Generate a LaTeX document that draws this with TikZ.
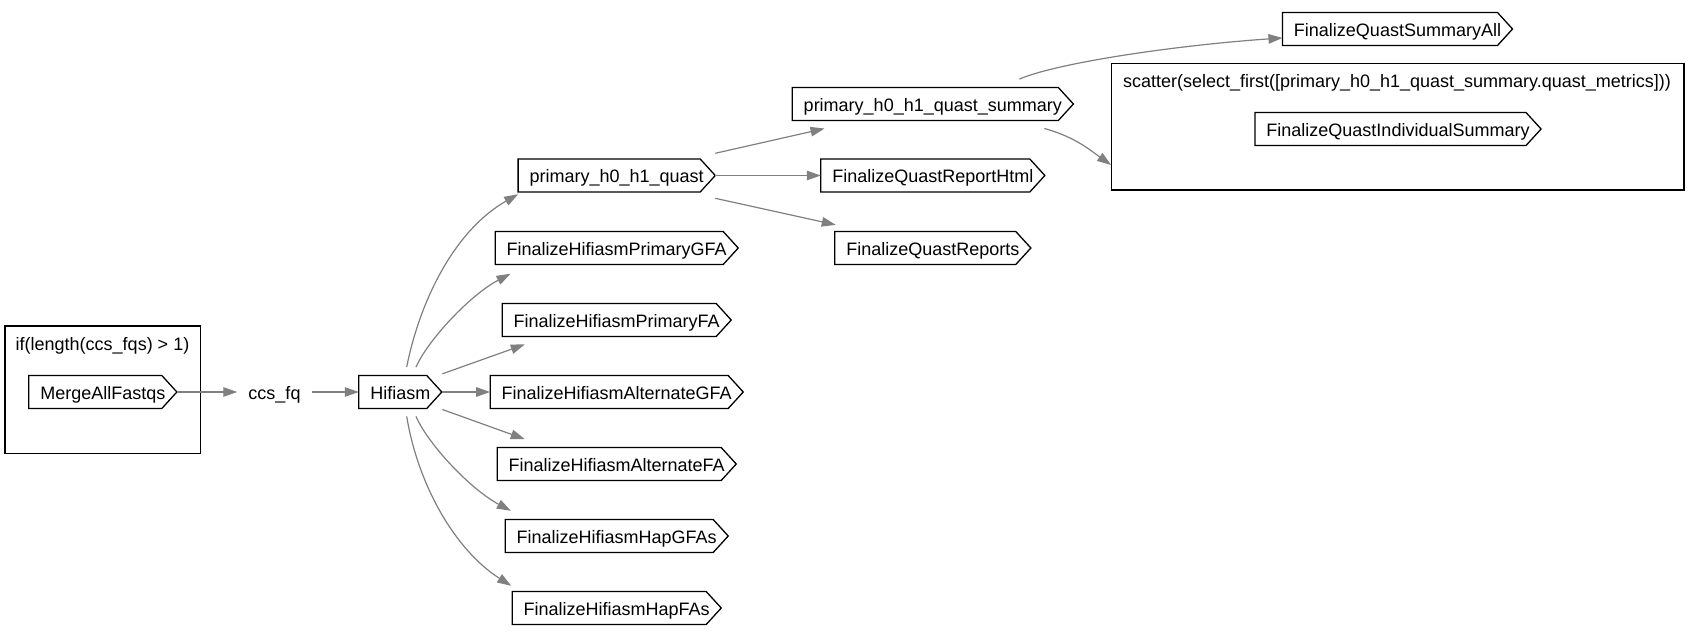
\documentclass[tikz,border=0pt]{standalone}
\usepackage{fontspec}
\setmainfont{Liberation Sans}
\usetikzlibrary{arrows.meta}

% chevron outline (flat left side, pointed right side) around a task node
\newcommand\taskoutline[1]{%
  \draw[outline] (#1.north west) -- ([shift={(-15,0)}]#1.north east) -- (#1.east)
    -- ([shift={(-15,0)}]#1.south east) -- (#1.south west) -- cycle;}

\begin{document}
\begin{tikzpicture}[x=1pt,y=-1pt,
  every node/.style={font=\fontsize{18}{21.6}\selectfont},
  task/.style={inner xsep=11.3pt, inner ysep=0pt, minimum height=32.5pt,
               text height=14.6pt, text depth=0pt},
  plain/.style={inner xsep=11pt, inner ysep=0pt, minimum height=32.5pt,
               text height=14.6pt, text depth=0pt},
  outline/.style={draw=black, line width=1.3pt, line join=miter},
  cluster/.style={draw=black, line width=1.3pt, inner sep=0pt},
  clabel/.style={anchor=base, inner sep=0pt},
  flow/.style={draw=black!50, line width=1.2pt,
               -{Triangle[length=14pt,width=9.5pt]}},
]
\path[fill=white, use as bounding box] (0,0) rectangle (1690,637);

% conditional block
\node[cluster, minimum width=195.7pt, minimum height=127.3pt] (ifbox) at (102.85,389.65) {};
\node[clabel] (iflabel) at (102.5,350.7) {if(length(ccs\_fqs) > 1)};
\node[task] (merge) at (102.85,392) {MergeAllFastqs};

\node[plain] (ccs) at (274.5,392) {ccs\_fq};
\node[task] (hifiasm) at (400.3,392) {Hifiasm};

% Hifiasm outputs
\node[task] (quast)   at (616.7,175.5) {primary\_h0\_h1\_quast};
\node[task] (primGFA) at (616.7,248) {FinalizeHifiasmPrimaryGFA};
\node[task] (primFA)  at (616.7,320) {FinalizeHifiasmPrimaryFA};
\node[task] (altGFA)  at (616.7,392) {FinalizeHifiasmAlternateGFA};
\node[task] (altFA)   at (616.7,464) {FinalizeHifiasmAlternateFA};
\node[task] (hapGFAs) at (616.7,536) {FinalizeHifiasmHapGFAs};
\node[task] (hapFAs)  at (616.7,608) {FinalizeHifiasmHapFAs};

% QUAST reporting
\node[task] (summary) at (932.8,104) {primary\_h0\_h1\_quast\_summary};
\node[task] (html)    at (932.8,175.5) {FinalizeQuastReportHtml};
\node[task] (reports) at (932.8,248) {FinalizeQuastReports};
\node[task] (summaryAll) at (1397.5,29) {FinalizeQuastSummaryAll};

% scatter block
\node[cluster, minimum width=572.3pt, minimum height=126.5pt] (scatterbox) at (1397.85,126.75) {};
\node[clabel] (scatterlabel) at (1397,87.5) {scatter(select\_first([primary\_h0\_h1\_quast\_summary.quast\_metrics]))};
\node[task] (individual) at (1398,129) {FinalizeQuastIndividualSummary};

\foreach \n in {merge,hifiasm,quast,primGFA,primFA,altGFA,altFA,hapGFAs,hapFAs,
                summary,html,reports,summaryAll,individual}{\taskoutline{\n}}

% connectors
\draw[flow] (merge.east) -- (ccs.west);
\draw[flow] (ccs.east) -- (hifiasm.west);

\draw[flow] ([shift={(6.4,-8.5)}]hifiasm.north) .. controls (420,300) and (455,230) .. ([shift={(0,2.3)}]quast.south west);
\draw[flow] ([shift={(15.7,-8.5)}]hifiasm.north) .. controls (428,340) and (470,295) .. ([shift={(15.3,9.3)}]primGFA.south west);
\draw[flow] ([shift={(0.6,-1.75)}]hifiasm.north east) -- ([shift={(22.6,8)}]primFA.south west);
\draw[flow] (hifiasm.east) -- (altGFA.west);
\draw[flow] ([shift={(0.6,1.05)}]hifiasm.south east) -- ([shift={(27.6,-8.4)}]altFA.north west);
\draw[flow] ([shift={(15.7,8)}]hifiasm.south) .. controls (428,444) and (470,489) .. ([shift={(5.7,-8.75)}]hapGFAs.north west);
\draw[flow] ([shift={(6.4,8)}]hifiasm.south) .. controls (418,485) and (455,550) .. ([shift={(-1,-5.75)}]hapFAs.north west);

\draw[flow] ([shift={(0,-22.2)}]quast.east) -- ([shift={(32.3,8.1)}]summary.south west);
\draw[flow] (quast.east) -- (html.west);
\draw[flow] ([shift={(0,22.8)}]quast.east) -- ([shift={(1,-6.7)}]reports.north west);

\draw[flow] ([shift={(-54,-8.5)}]summary.north east) .. controls (1060,62) and (1180,45) .. ([shift={(0,-7.5)}]summaryAll.south west);
\draw[flow] ([shift={(-29,8)}]summary.south east) .. controls (1075,137) and (1090,150) .. ([shift={(0,38.25)}]scatterbox.west);
\end{tikzpicture}
\end{document}
